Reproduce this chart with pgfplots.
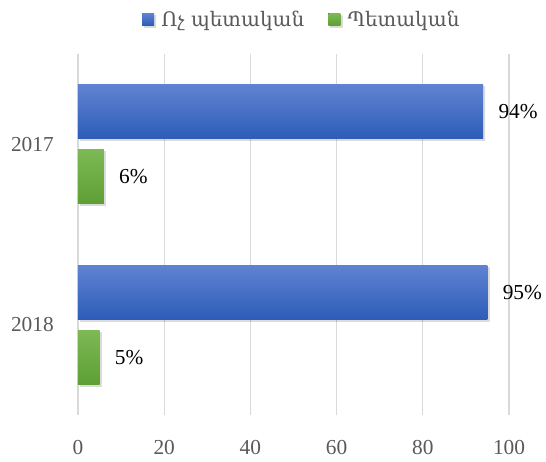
\documentclass[border=0pt]{standalone}
\usepackage{pgfplots}
\pgfplotsset{compat=1.18}
\usepackage{fontspec}
\setmainfont{Liberation Serif}
\newfontfamily\armfont[Script=Armenian]{DejaVu Serif}
\definecolor{gridc}{HTML}{D9D9D9}
\definecolor{tickc}{HTML}{595959}
\definecolor{blueT}{HTML}{5F83D2}
\definecolor{blueB}{HTML}{2D5CB8}
\definecolor{greenT}{HTML}{7DB955}
\definecolor{greenB}{HTML}{5E9F34}
\begin{document}
\begin{tikzpicture}[x=0.75pt,y=0.75pt]
\path[use as bounding box] (-78,-46) rectangle (468,415);
\begin{axis}[
  at={(0,0)}, anchor=south west,
  scale only axis,
  width=323.25pt, height=270.75pt,
  xbar, bar width=0.30,
  xmin=0, xmax=100, ymin=-0.5, ymax=1.5,
  xtick={0,20,40,60,80,100},
  ytick={0,1}, yticklabels={2018,2017},
  axis line style={draw=none},
  major tick length=0pt,
  xmajorgrids, grid style={gridc, line width=0.8pt},
  tick label style={font=\fontsize{16}{19}\selectfont, text=tickc},
  /pgf/number format/assume math mode=true,
  xticklabel style={inner sep=0pt, yshift=-19pt},
  yticklabel style={inner sep=0pt, xshift=-18pt},
  point meta=x,
  nodes near coords={\pgfmathprintnumber\pgfplotspointmeta\%},
  nodes near coords style={font=\fontsize{16}{19}\selectfont, text=black, anchor=west, xshift=8pt},
  legend style={at={(0.52,1)}, anchor=center, yshift=26pt, draw=none, fill=none,
    font=\armfont\fontsize{15}{18}\selectfont, text=tickc, column sep=3.5pt,
    /tikz/every even column/.style={column sep=16pt}},
  legend columns=2,
  legend image code/.code={\fill[#1] (0pt,-4.5pt) rectangle (9pt,4.5pt);},
  shadowed/.style={preaction={top color=black, bottom color=black, opacity=0.14,
     transform canvas={shift={(1.5pt,-1.5pt)}}}},
]
\addplot[draw=none, top color=blueT, bottom color=blueB, bar shift=0.18, shadowed]
  coordinates {(94,1)};
\addlegendentry{Ոչ պետական}
\addplot[draw=none, top color=greenT, bottom color=greenB, bar shift=-0.18, shadowed]
  coordinates {(6,1)};
\addlegendentry{Պետական}
\addplot[draw=none, top color=blueT, bottom color=blueB, bar shift=0.18, shadowed, forget plot]
  coordinates {(95,0)};
\addplot[draw=none, top color=greenT, bottom color=greenB, bar shift=-0.18, shadowed, forget plot]
  coordinates {(5,0)};
\end{axis}
\end{tikzpicture}
\end{document}
